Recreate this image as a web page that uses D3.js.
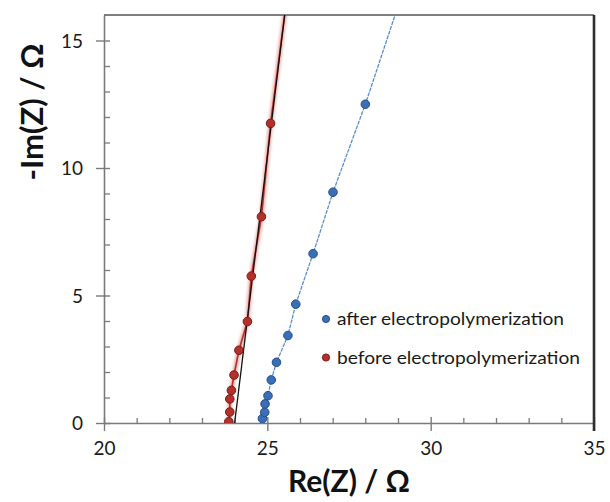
<!DOCTYPE html>
<html>
<head>
<meta charset="utf-8">
<script src="https://cdn.jsdelivr.net/npm/d3@7"></script>
<style>
  body { margin: 0; background: #fff; }
  svg { display: block; }
</style>
</head>
<body>
<div id="chart"></div>
<script>
// data
const beforeRe = [23.82, 23.85, 23.85, 23.90, 23.98, 24.13, 24.39, 24.51, 24.82, 25.10]
const beforeIm = [0.05, 0.43, 0.94, 1.28, 1.88, 2.85, 3.98, 5.76, 8.09, 11.75]
const afterRe = [24.85, 24.92, 24.93, 25.02, 25.12, 25.28, 25.63, 25.87, 26.40, 27.01, 28.00]
const afterIm = [0.17, 0.42, 0.75, 1.07, 1.69, 2.38, 3.43, 4.66, 6.64, 9.05, 12.50]
// line continues past the plot top
const beforeLineEnd = [25.56, 16.3]
const afterLineEnd = [28.99, 16.3]
// linear fit (black)
const fitRe = [23.98, 25.56]
const fitIm = [-0.2, 16.3]

const xTicks = [20, 25, 30, 35]
const yTicks = [0, 5, 10, 15]
const seriesNames = ['after electropolymerization', 'before electropolymerization']
const legendWidths = [227, 243]
const seriesColors = ['#3a6fb8', '#b3302b']
const seriesStroke = ['#24508f', '#7d1a16']

const width = 610
const height = 502
const margin = {top: 15, right: 16, bottom: 79, left: 104}
const w = width - margin.left - margin.right
const h = height - margin.top - margin.bottom

const svg = d3.select('#chart').append('svg').attr('width', width).attr('height', height)
const defs = svg.append('defs')
defs.append('clipPath').attr('id', 'clip').append('rect').attr('width', w).attr('height', h)
defs.append('filter').attr('id', 'glow').attr('x', '-50%').attr('width', '200%')
    .append('feGaussianBlur').attr('stdDeviation', 1.6)

const g = svg.append('g').attr('transform', `translate(${margin.left}, ${margin.top})`)

const x = d3.scaleLinear().domain([20, 35]).range([0, w])
const y = d3.scaleLinear().domain([0, 16]).range([h, 0])

const axisColor = '#7a7a7a'
const font = 'Lato, "Open Sans", sans-serif'

// minor ticks
const xMinor = d3.range(21, 35).filter(v => v % 5 !== 0)
const yMinor = d3.range(1, 16).filter(v => v % 5 !== 0)
const xMinorAxis = g.append('g').attr('transform', `translate(0, ${h})`)
    .call(d3.axisTop(x).tickValues(xMinor).tickSize(5).tickFormat(''))
const yMinorAxis = g.append('g')
    .call(d3.axisRight(y).tickValues(yMinor).tickSize(6).tickFormat(''))
;[xMinorAxis, yMinorAxis].forEach(a => {
    a.select('.domain').remove()
    a.selectAll('line').attr('stroke', axisColor).attr('stroke-width', 1.3)
})

// main axes
const xAxisGroup = g.append('g').attr('transform', `translate(0, ${h})`)
    .call(d3.axisBottom(x).tickValues(xTicks).tickSize(8).tickPadding(11).tickSizeOuter(0))
const yAxisGroup = g.append('g')
    .call(d3.axisLeft(y).tickValues(yTicks).tickSize(8).tickPadding(13).tickSizeOuter(0))
;[xAxisGroup, yAxisGroup].forEach(a => {
    a.select('.domain').attr('stroke', axisColor).attr('stroke-width', 1.6)
    a.selectAll('.tick line').attr('stroke', axisColor).attr('stroke-width', 1.4)
    a.selectAll('text').attr('font-family', font).attr('font-size', 19).attr('fill', '#1a1a1a')
})
xAxisGroup.selectAll('.tick line').attr('y1', -6)
yAxisGroup.selectAll('.tick line').attr('x1', 6)
yAxisGroup.selectAll('text').attr('dy', '0.36em')

// frame top + right
g.append('line').attr('x1', 0).attr('x2', w).attr('y1', 0).attr('y2', 0)
    .attr('stroke', '#555').attr('stroke-width', 1.6)
g.append('line').attr('x1', w).attr('x2', w).attr('y1', 0).attr('y2', h + 8)
    .attr('stroke', '#2e2e2e').attr('stroke-width', 2.6)

const plot = g.append('g').attr('clip-path', 'url(#clip)')
const line = d3.line().x(d => x(d[0])).y(d => y(d[1]))

const beforePts = beforeRe.map((v, i) => [v, beforeIm[i]])
const afterPts = afterRe.map((v, i) => [v, afterIm[i]])

// before: blurred red trace
plot.append('path').datum(beforePts.concat([beforeLineEnd]))
    .attr('d', line).attr('fill', 'none').attr('stroke', '#d0403a')
    .attr('stroke-opacity', 0.5).attr('stroke-width', 4).attr('filter', 'url(#glow)')
plot.append('path').datum(beforePts.concat([beforeLineEnd]))
    .attr('d', line).attr('fill', 'none').attr('stroke', '#b3302b').attr('stroke-width', 1.6)
// fit line
plot.append('path').datum(fitRe.map((v, i) => [v, fitIm[i]]))
    .attr('d', line).attr('fill', 'none').attr('stroke', '#111').attr('stroke-width', 1.3)

// after: thin blue trace
plot.append('path').datum(afterPts.concat([afterLineEnd]))
    .attr('d', line).attr('fill', 'none').attr('stroke', '#5b8fd0')
    .attr('stroke-width', 1.3).attr('stroke-dasharray', '4,1')

plot.selectAll('.before').data(beforePts).enter().append('circle')
    .attr('class', 'before')
    .attr('cx', d => x(d[0])).attr('cy', d => y(d[1])).attr('r', 4.3)
    .attr('fill', seriesColors[1]).attr('stroke', seriesStroke[1]).attr('stroke-width', 1)
plot.selectAll('.after').data(afterPts).enter().append('circle')
    .attr('class', 'after')
    .attr('cx', d => x(d[0])).attr('cy', d => y(d[1])).attr('r', 4.3)
    .attr('fill', seriesColors[0]).attr('stroke', seriesStroke[0]).attr('stroke-width', 1)

// legend
const legend = g.append('g').attr('transform', `translate(${326 - margin.left}, ${319 - margin.top})`)
seriesNames.forEach((name, i) => {
    const row = legend.append('g').attr('transform', `translate(0, ${i * 38.5})`)
    row.append('circle').attr('r', 3.6).attr('fill', seriesColors[i]).attr('stroke', seriesStroke[i])
    row.append('text').attr('x', 11).attr('dy', '0.35em').text(name)
        .attr('textLength', legendWidths[i]).attr('lengthAdjust', 'spacingAndGlyphs')
        .attr('font-family', font).attr('font-size', 17.5).attr('fill', '#1a1a1a')
})

// axis titles
svg.append('text').attr('x', margin.left + w / 2).attr('y', 492)
    .attr('text-anchor', 'middle').attr('font-family', font).attr('font-weight', 'bold')
    .attr('font-size', 30).attr('fill', '#111').text('Re(Z) / Ω')
svg.append('text').attr('transform', 'translate(43, 112) rotate(-90)')
    .attr('text-anchor', 'middle').attr('font-family', font).attr('font-weight', 'bold')
    .attr('font-size', 31).attr('fill', '#111').text('-Im(Z) / Ω')
</script>
</body>
</html>
